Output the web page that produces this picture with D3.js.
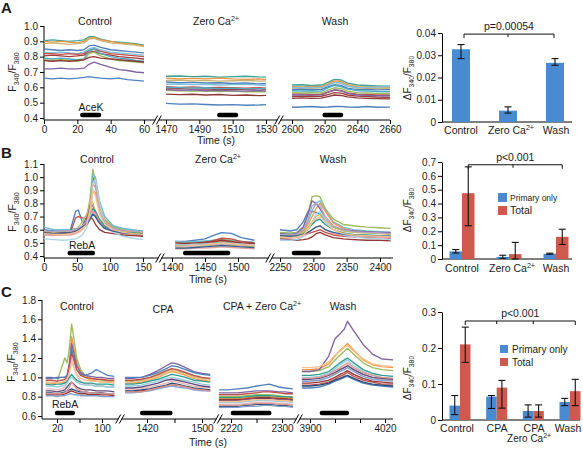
<!DOCTYPE html>
<html><head><meta charset="utf-8">
<script src="https://cdn.jsdelivr.net/npm/d3@7/dist/d3.min.js"></script>
<style>
body{margin:0;background:#fff}
text{font-family:"Liberation Sans",Arial,sans-serif;fill:#1a1a1a}
</style>
</head><body><script>
// ================= DATA =================
// ---- Panel A traces (F340/F380) ----
const aTimeCtrl = [0,5,10,15,20,24,27,30,34,40,45,50,55,60];
const aCtrl = [
 [0.905,0.91,0.905,0.90,0.905,0.91,0.93,0.93,0.915,0.90,0.895,0.89,0.885,0.875],
 [0.90,0.895,0.90,0.895,0.89,0.90,0.92,0.925,0.91,0.90,0.89,0.885,0.88,0.87],
 [0.885,0.89,0.885,0.88,0.885,0.89,0.915,0.92,0.905,0.89,0.885,0.88,0.875,0.865],
 [0.85,0.845,0.84,0.845,0.84,0.845,0.87,0.875,0.86,0.845,0.84,0.835,0.83,0.825],
 [0.83,0.825,0.83,0.825,0.82,0.83,0.85,0.86,0.845,0.83,0.825,0.82,0.815,0.81],
 [0.82,0.82,0.815,0.82,0.815,0.82,0.84,0.85,0.835,0.82,0.815,0.81,0.805,0.80],
 [0.805,0.81,0.805,0.80,0.805,0.81,0.83,0.835,0.82,0.81,0.80,0.795,0.79,0.785],
 [0.79,0.785,0.79,0.785,0.78,0.785,0.84,0.85,0.82,0.80,0.79,0.785,0.775,0.77],
 [0.78,0.775,0.78,0.775,0.77,0.78,0.82,0.83,0.805,0.785,0.775,0.77,0.765,0.76],
 [0.775,0.77,0.775,0.77,0.775,0.78,0.795,0.80,0.79,0.785,0.78,0.775,0.77,0.765],
 [0.72,0.72,0.725,0.72,0.72,0.725,0.75,0.765,0.75,0.73,0.715,0.71,0.70,0.695],
 [0.66,0.655,0.66,0.655,0.66,0.665,0.67,0.665,0.66,0.655,0.66,0.65,0.645,0.64]
];
const aTimeZero = [1470,1478,1486,1494,1502,1510,1518,1526,1530];
const aZero = [
 [0.672,0.674,0.67,0.672,0.667,0.67,0.672,0.668,0.667],
 [0.66,0.655,0.658,0.655,0.66,0.655,0.652,0.655,0.65],
 [0.645,0.648,0.642,0.645,0.64,0.643,0.645,0.64,0.642],
 [0.635,0.63,0.632,0.628,0.63,0.625,0.628,0.622,0.625],
 [0.62,0.622,0.618,0.62,0.615,0.618,0.62,0.615,0.612],
 [0.605,0.60,0.603,0.598,0.60,0.597,0.595,0.598,0.595],
 [0.59,0.592,0.588,0.59,0.585,0.588,0.585,0.582,0.585],
 [0.60,0.598,0.595,0.597,0.592,0.595,0.59,0.592,0.59],
 [0.58,0.578,0.575,0.578,0.572,0.575,0.57,0.572,0.57],
 [0.556,0.552,0.555,0.55,0.553,0.548,0.55,0.546,0.548],
 [0.585,0.58,0.583,0.578,0.58,0.577,0.575,0.578,0.575],
 [0.495,0.49,0.492,0.488,0.485,0.487,0.483,0.485,0.487]
];
const aTimeWash = [2600,2606,2612,2618,2622,2626,2630,2634,2640,2646,2652,2660];
const aWash = [
 [0.615,0.617,0.612,0.615,0.632,0.652,0.648,0.628,0.615,0.612,0.61,0.608],
 [0.605,0.603,0.606,0.604,0.622,0.642,0.638,0.618,0.605,0.603,0.604,0.60],
 [0.595,0.597,0.593,0.596,0.612,0.632,0.628,0.608,0.595,0.593,0.595,0.59],
 [0.585,0.588,0.585,0.587,0.603,0.618,0.613,0.595,0.585,0.587,0.583,0.585],
 [0.60,0.598,0.60,0.598,0.615,0.632,0.627,0.608,0.598,0.60,0.602,0.605],
 [0.555,0.557,0.553,0.555,0.568,0.582,0.578,0.563,0.555,0.553,0.55,0.55],
 [0.54,0.543,0.54,0.542,0.553,0.565,0.562,0.55,0.543,0.54,0.537,0.535],
 [0.578,0.576,0.578,0.575,0.596,0.612,0.605,0.588,0.578,0.576,0.573,0.571],
 [0.565,0.563,0.565,0.563,0.582,0.597,0.592,0.575,0.565,0.563,0.561,0.559],
 [0.528,0.531,0.528,0.53,0.54,0.55,0.547,0.538,0.531,0.528,0.526,0.525],
 [0.55,0.55,0.548,0.551,0.568,0.584,0.578,0.561,0.55,0.548,0.545,0.545],
 [0.47,0.472,0.475,0.47,0.472,0.475,0.476,0.472,0.47,0.475,0.47,0.471]
];
const aStim = [[23,33],[1502,1512],[2620,2630]];
const aTicksCtrl = [0,20,40,60], aTicksZero = [1470,1490,1510,1530], aTicksWash = [2600,2620,2640,2660];
const aYTicks = [0.4,0.5,0.6,0.7,0.8,0.9,1.0];

// ---- Panel B traces ----
const bTimeCtrl = [0,15,30,40,48,52,58,65,70,74,78,84,92,105,120,135,150];
const bCtrl = [
 [0.60,0.59,0.59,0.60,0.74,0.75,0.66,0.66,0.78,1.00,0.95,0.78,0.68,0.62,0.60,0.59,0.58],
 [0.59,0.58,0.59,0.59,0.60,0.61,0.62,0.65,0.85,1.06,0.96,0.78,0.68,0.62,0.60,0.59,0.585],
 [0.62,0.60,0.60,0.60,0.61,0.61,0.62,0.64,0.80,1.02,1.00,0.82,0.70,0.63,0.61,0.60,0.59],
 [0.58,0.575,0.58,0.58,0.59,0.60,0.62,0.66,0.80,0.95,0.92,0.78,0.67,0.61,0.59,0.58,0.575],
 [0.58,0.57,0.575,0.58,0.69,0.70,0.69,0.68,0.70,0.72,0.70,0.65,0.61,0.59,0.575,0.57,0.56],
 [0.57,0.565,0.57,0.575,0.58,0.60,0.63,0.70,0.80,0.78,0.72,0.66,0.62,0.59,0.575,0.57,0.565],
 [0.58,0.575,0.58,0.58,0.60,0.62,0.66,0.72,0.83,0.80,0.74,0.68,0.63,0.60,0.585,0.58,0.575],
 [0.57,0.565,0.57,0.57,0.58,0.59,0.62,0.66,0.72,0.76,0.74,0.68,0.63,0.60,0.58,0.575,0.57],
 [0.56,0.555,0.56,0.56,0.57,0.58,0.60,0.64,0.70,0.74,0.72,0.66,0.61,0.585,0.57,0.565,0.56],
 [0.575,0.57,0.575,0.575,0.59,0.60,0.62,0.66,0.70,0.68,0.64,0.60,0.58,0.57,0.56,0.555,0.55],
 [0.53,0.525,0.52,0.525,0.53,0.54,0.56,0.62,0.70,0.95,0.98,0.80,0.66,0.58,0.55,0.535,0.525],
 [0.59,0.585,0.59,0.59,0.60,0.61,0.63,0.66,0.72,0.90,0.88,0.74,0.65,0.61,0.595,0.59,0.585],
 [0.575,0.57,0.575,0.575,0.585,0.60,0.62,0.64,0.68,0.72,0.70,0.65,0.61,0.59,0.575,0.57,0.565],
 [0.57,0.565,0.565,0.57,0.58,0.59,0.61,0.64,0.75,0.90,0.86,0.72,0.64,0.60,0.58,0.57,0.565]
];
const bTimeZero = [1405,1420,1435,1450,1465,1475,1490,1505,1525];
const bZero = [
 [0.51,0.51,0.52,0.53,0.56,0.578,0.572,0.54,0.52],
 [0.50,0.50,0.505,0.51,0.52,0.525,0.52,0.51,0.50],
 [0.51,0.505,0.51,0.515,0.52,0.52,0.515,0.51,0.505],
 [0.49,0.49,0.495,0.50,0.51,0.515,0.51,0.50,0.495],
 [0.48,0.485,0.49,0.50,0.52,0.535,0.53,0.51,0.50],
 [0.47,0.475,0.48,0.485,0.49,0.50,0.495,0.485,0.48],
 [0.465,0.47,0.47,0.475,0.48,0.485,0.48,0.475,0.47],
 [0.48,0.48,0.485,0.49,0.50,0.505,0.50,0.49,0.485],
 [0.455,0.455,0.46,0.46,0.465,0.47,0.465,0.46,0.455],
 [0.50,0.495,0.50,0.505,0.51,0.52,0.51,0.50,0.495],
 [0.485,0.485,0.49,0.49,0.495,0.50,0.495,0.49,0.485],
 [0.47,0.47,0.475,0.48,0.49,0.495,0.49,0.485,0.48],
 [0.46,0.46,0.465,0.47,0.475,0.48,0.475,0.47,0.465],
 [0.475,0.475,0.48,0.485,0.495,0.50,0.495,0.485,0.48]
];
const bTimeWash = [2250,2265,2275,2285,2292,2298,2304,2310,2318,2330,2345,2360,2380,2400,2416];
const bWash = [
 [0.60,0.59,0.60,0.66,0.74,0.74,0.73,0.72,0.66,0.62,0.60,0.59,0.58,0.58,0.575],
 [0.58,0.575,0.58,0.62,0.72,0.85,0.86,0.85,0.76,0.68,0.64,0.63,0.62,0.615,0.61],
 [0.57,0.565,0.57,0.60,0.66,0.74,0.80,0.82,0.75,0.66,0.62,0.60,0.59,0.585,0.58],
 [0.56,0.555,0.56,0.59,0.64,0.70,0.76,0.80,0.74,0.65,0.61,0.59,0.58,0.575,0.57],
 [0.55,0.545,0.55,0.56,0.57,0.58,0.59,0.60,0.58,0.56,0.55,0.545,0.54,0.54,0.535],
 [0.57,0.565,0.57,0.62,0.72,0.82,0.80,0.76,0.68,0.62,0.60,0.59,0.585,0.58,0.58],
 [0.56,0.555,0.56,0.58,0.62,0.66,0.70,0.72,0.68,0.62,0.59,0.58,0.575,0.57,0.565],
 [0.55,0.545,0.55,0.57,0.60,0.64,0.67,0.68,0.64,0.60,0.575,0.565,0.56,0.555,0.55],
 [0.54,0.535,0.54,0.55,0.57,0.60,0.62,0.63,0.60,0.57,0.555,0.55,0.545,0.54,0.54],
 [0.53,0.525,0.52,0.525,0.53,0.545,0.57,0.58,0.56,0.54,0.53,0.525,0.52,0.52,0.515],
 [0.52,0.52,0.525,0.55,0.60,0.66,0.72,0.74,0.68,0.60,0.56,0.545,0.535,0.53,0.525],
 [0.565,0.56,0.565,0.60,0.68,0.78,0.80,0.78,0.70,0.63,0.60,0.585,0.58,0.575,0.57],
 [0.555,0.55,0.555,0.565,0.58,0.60,0.62,0.63,0.60,0.58,0.565,0.56,0.555,0.55,0.55],
 [0.545,0.54,0.545,0.56,0.60,0.66,0.68,0.70,0.66,0.60,0.57,0.56,0.555,0.55,0.545]
];
const bStim = [[39,74],[1420,1485],[2271,2308]];
const bTicksCtrl = [0,50,100,150], bTicksZero = [1400,1450,1500], bTicksWash = [2250,2300,2350,2400];
const bYTicks = [0.4,0.5,0.6,0.7,0.8,0.9,1.0,1.1];

// ---- Panel C traces ----
const cTimeCtrl = [0,10,20,28,34,38,42,46,50,55,62,70,80,90,100,110,122];
const cCtrl = [
 [0.95,0.94,0.95,1.10,1.20,1.15,1.30,1.55,1.40,1.20,1.08,1.02,0.99,0.98,0.97,0.96,0.96],
 [0.93,0.93,0.94,0.94,0.95,0.97,1.10,1.42,1.30,1.15,1.05,1.00,0.97,0.96,0.95,0.95,0.94],
 [0.99,0.99,1.00,1.00,1.00,1.02,1.15,1.35,1.25,1.12,1.05,1.02,1.01,1.00,1.00,0.99,0.99],
 [1.00,1.00,0.99,1.00,1.00,1.02,1.12,1.30,1.20,1.08,1.03,1.02,1.04,1.08,1.05,1.02,1.01],
 [0.88,0.88,0.87,0.88,0.90,0.95,1.05,1.20,1.12,1.02,0.96,0.93,0.92,0.91,0.91,0.90,0.90],
 [0.97,0.97,0.96,0.97,0.98,1.00,1.12,1.25,1.18,1.08,1.02,1.00,0.99,0.98,0.98,0.97,0.97],
 [0.93,0.92,0.93,0.93,0.94,0.96,1.00,1.03,1.00,0.97,0.95,0.94,0.94,0.93,0.93,0.93,0.92],
 [0.91,0.91,0.90,0.91,0.92,0.94,0.98,1.00,0.98,0.95,0.93,0.92,0.92,0.91,0.91,0.90,0.90],
 [0.86,0.86,0.85,0.86,0.87,0.90,0.93,0.95,0.93,0.90,0.88,0.87,0.87,0.86,0.86,0.86,0.85],
 [0.84,0.84,0.83,0.84,0.85,0.86,0.87,0.88,0.87,0.86,0.85,0.85,0.84,0.84,0.84,0.83,0.83],
 [0.82,0.82,0.82,0.82,0.83,0.84,0.85,0.86,0.85,0.84,0.83,0.83,0.82,0.82,0.82,0.82,0.81],
 [0.81,0.81,0.80,0.81,0.81,0.82,0.83,0.83,0.82,0.82,0.81,0.81,0.81,0.81,0.80,0.80,0.80],
 [0.95,0.95,0.94,0.95,0.96,0.98,1.05,1.15,1.10,1.03,0.99,0.97,0.96,0.96,0.95,0.95,0.95],
 [0.83,0.83,0.83,0.83,0.84,0.86,0.90,0.95,0.92,0.88,0.86,0.85,0.84,0.84,0.83,0.83,0.83]
];
const cTimeCpa = [1388,1400,1412,1424,1436,1448,1456,1464,1476,1488,1500,1512];
const cCpa = [
 [0.96,0.96,0.97,0.99,1.02,1.06,1.08,1.07,1.04,1.01,0.99,0.98],
 [0.94,0.94,0.95,0.97,1.00,1.04,1.06,1.05,1.02,0.99,0.97,0.96],
 [0.99,0.99,1.00,1.03,1.07,1.12,1.15,1.14,1.10,1.06,1.04,1.03],
 [1.00,1.00,1.00,1.02,1.05,1.09,1.12,1.11,1.08,1.05,1.03,1.02],
 [0.87,0.87,0.88,0.90,0.92,0.94,0.96,0.95,0.93,0.91,0.90,0.89],
 [0.97,0.97,0.98,1.00,1.03,1.07,1.09,1.08,1.05,1.02,1.00,0.99],
 [0.93,0.93,0.94,0.96,0.98,1.01,1.03,1.02,1.00,0.97,0.96,0.95],
 [0.91,0.91,0.92,0.94,0.96,0.99,1.00,0.99,0.97,0.95,0.93,0.92],
 [0.89,0.89,0.90,0.92,0.94,0.97,0.98,0.97,0.95,0.93,0.91,0.90],
 [0.86,0.86,0.87,0.88,0.90,0.92,0.94,0.93,0.91,0.89,0.88,0.87],
 [0.85,0.85,0.86,0.87,0.89,0.91,0.92,0.92,0.90,0.88,0.87,0.86],
 [0.84,0.84,0.85,0.86,0.88,0.90,0.91,0.90,0.89,0.87,0.86,0.86],
 [0.95,0.95,0.96,0.98,1.01,1.05,1.07,1.06,1.03,1.00,0.98,0.97],
 [0.85,0.85,0.85,0.87,0.89,0.91,0.92,0.92,0.90,0.88,0.87,0.86]
];
const cTimeCpaZero = [2201,2215,2230,2245,2260,2270,2280,2295,2305,2317];
const cCpaZero = [
 [0.80,0.80,0.80,0.81,0.82,0.82,0.82,0.81,0.80,0.80],
 [0.78,0.78,0.78,0.79,0.80,0.80,0.80,0.79,0.79,0.78],
 [0.84,0.84,0.84,0.85,0.86,0.86,0.86,0.85,0.85,0.84],
 [0.87,0.87,0.88,0.89,0.91,0.92,0.93,0.90,0.89,0.88],
 [0.72,0.72,0.72,0.73,0.74,0.74,0.74,0.73,0.73,0.72],
 [0.82,0.82,0.82,0.83,0.84,0.85,0.85,0.84,0.83,0.83],
 [0.79,0.79,0.79,0.80,0.81,0.81,0.81,0.80,0.80,0.79],
 [0.74,0.74,0.74,0.75,0.76,0.76,0.76,0.75,0.75,0.74],
 [0.76,0.76,0.76,0.77,0.78,0.78,0.78,0.77,0.77,0.76],
 [0.70,0.70,0.70,0.71,0.72,0.72,0.72,0.71,0.71,0.70],
 [0.77,0.77,0.77,0.78,0.79,0.79,0.79,0.78,0.78,0.77],
 [0.69,0.69,0.69,0.70,0.70,0.71,0.71,0.70,0.70,0.69],
 [0.75,0.75,0.75,0.76,0.77,0.77,0.77,0.76,0.76,0.75],
 [0.71,0.71,0.71,0.72,0.73,0.73,0.73,0.72,0.72,0.71]
];
const cTimeWash = [3887,3900,3915,3930,3940,3948,3955,3960,3970,3985,4000,4015,4033];
const cWash = [
 [1.06,1.06,1.07,1.11,1.18,1.23,1.27,1.30,1.24,1.15,1.10,1.08,1.07],
 [1.08,1.08,1.09,1.14,1.22,1.28,1.32,1.35,1.28,1.18,1.13,1.11,1.10],
 [1.06,1.06,1.08,1.22,1.40,1.45,1.50,1.58,1.48,1.34,1.24,1.19,1.18],
 [0.89,0.89,0.90,0.93,0.96,0.98,1.00,1.01,0.98,0.94,0.92,0.91,0.90],
 [0.96,0.96,0.97,1.00,1.04,1.08,1.11,1.13,1.08,1.03,1.00,0.98,0.97],
 [0.92,0.92,0.93,0.95,0.98,1.01,1.03,1.05,1.01,0.97,0.95,0.93,0.93],
 [1.02,1.02,1.03,1.06,1.11,1.15,1.18,1.20,1.15,1.08,1.04,1.02,1.01],
 [1.00,1.00,1.01,1.04,1.09,1.13,1.16,1.18,1.12,1.06,1.02,1.00,0.99],
 [0.98,0.98,0.99,1.02,1.05,1.08,1.10,1.12,1.08,1.03,1.00,0.99,0.98],
 [0.91,0.91,0.92,0.94,0.97,0.99,1.01,1.02,0.99,0.95,0.93,0.92,0.91],
 [0.94,0.94,0.95,0.97,1.00,1.03,1.05,1.07,1.03,0.99,0.96,0.95,0.94],
 [0.96,0.96,0.97,1.00,1.03,1.06,1.08,1.10,1.06,1.01,0.98,0.97,0.96],
 [1.10,1.10,1.11,1.16,1.23,1.27,1.31,1.33,1.27,1.19,1.14,1.12,1.11],
 [0.99,0.99,1.00,1.03,1.07,1.10,1.13,1.15,1.10,1.05,1.02,1.00,0.99]
];
const cStim = [[20,48],[1413,1454],[2223,2280],[3919,3959]];
const cTicksCtrl = [20,60,100], cTicksCpa = [1420,1460,1500], cTicksCpaZero = [2220,2260,2300], cTicksWash = [3900,3940,3980,4020];
const cTickLabels = [20,100,1420,1500,2220,2300,3900,4020];
const cYTicks = [0.6,0.8,1.0,1.2,1.4,1.6,1.8];

// ---- Bar charts (ΔF340/F380) ----
const barACats = ["Control","Zero","Wash"];
const barAMean = [0.0327,0.0051,0.0266];
const barALow  = [0.0285,0.0040,0.0255];
const barAHigh = [0.0348,0.0068,0.0285];
const barAYTicks = [0,0.01,0.02,0.03,0.04];

const barBCats = ["Control","Zero","Wash"];
const barBPrimMean = [0.055,0.015,0.038];
const barBPrimLow  = [0.043,0.005,0.034];
const barBPrimHigh = [0.068,0.027,0.042];
const barBTotMean = [0.475,0.035,0.160];
const barBTotLow  = [0.240,0.000,0.105];
const barBTotHigh = [0.665,0.120,0.215];
const barBYTicks = [0,0.1,0.2,0.3,0.4,0.5,0.6,0.7];

const barCCats = ["Control","CPA","CPAZero","Wash"];
const barCPrimMean = [0.040,0.065,0.025,0.050];
const barCPrimLow  = [0.015,0.032,0.008,0.040];
const barCPrimHigh = [0.068,0.068,0.042,0.060];
const barCTotMean = [0.210,0.090,0.025,0.080];
const barCTotLow  = [0.160,0.033,0.008,0.040];
const barCTotHigh = [0.258,0.110,0.042,0.113];
const barCYTicks = [0,0.1,0.2,0.3];

// ================= STYLE / DRAWING =================
const colA = ["#3FA596","#EE9345","#C9B36E","#4F81BD","#7CC3DA","#C0504D","#A33B3B","#4BACC6","#9BBB59","#8E3A36","#8064A2","#4F81BD"];
const colB = ["#4F81BD","#9BBB59","#6FBDD1","#F79646","#C0504D","#8064A2","#C4BD60","#2C9C8C","#E6A0A0","#953735","#A9D4E6","#B3A2C7","#376092","#FAC090"];
const colC = ["#9BBB59","#F79646","#8064A2","#4F81BD","#E6B9B8","#C0504D","#2C9C8C","#93CDDD","#604A7B","#2C4D75","#953735","#7F9FCF","#FAC090","#D99694"];
const BLUE = "#4A8AD0", RED = "#CD5A4C";
const FS = 10;

const svg = d3.select("body").append("svg").attr("width",583).attr("height",449);

function rich(sel, parts, size){
  let shift = 0;
  parts.forEach(p=>{
    const want = p.sub ? size*0.3 : p.sup ? -size*0.42 : 0;
    sel.append("tspan").attr("dy", (want-shift).toFixed(2))
      .attr("font-size", (p.sub||p.sup) ? size*0.68 : size).text(p.t);
    shift = want;
  });
  return sel;
}
function label(x,y,parts,size,anchor="middle",rot=0){
  const t = svg.append("text").attr("text-anchor",anchor).attr("font-size",size)
    .attr("transform",`translate(${x},${y}) rotate(${rot})`);
  return rich(t, parts, size);
}
const ZERO = [{t:"Zero Ca"},{t:"2+",sup:true}];
const FRATIO = [{t:"F"},{t:"340",sub:true},{t:"/F"},{t:"380",sub:true}];
const DFRATIO = [{t:"ΔF"},{t:"340",sub:true},{t:"/F"},{t:"380",sub:true}];

function tracePanel(p){
  const g = svg.append("g");
  const y = d3.scaleLinear().domain(p.yDomain).range(p.yRange);
  const ya = g.append("g").attr("transform",`translate(${p.x0},0)`)
    .call(d3.axisLeft(y).tickValues(p.yTicks).tickSize(4).tickPadding(2).tickFormat(d3.format(".1f")));
  ya.select(".domain").remove();
  ya.selectAll("text").attr("font-size",FS);
  g.append("line").attr("x1",p.x0).attr("x2",p.x0).attr("y1",y(p.yDomain[1])).attr("y2",p.axisY).attr("stroke","#000");
  g.append("line").attr("x1",p.x0).attr("x2",p.xEnd).attr("y1",p.axisY).attr("y2",p.axisY).attr("stroke","#000");
  p.segs.forEach(s=>{
    const x = d3.scaleLinear().domain(s.dom).range(s.rng);
    const line = d3.line().x((d,i)=>x(s.times[i])).y(d=>y(d));
    g.append("g").selectAll("path").data(s.traces).join("path")
      .attr("d",line).attr("fill","none")
      .attr("stroke",(d,i)=>p.colors[i%p.colors.length])
      .attr("stroke-width",1.35).attr("stroke-linejoin","round");
    const xa = g.append("g").attr("transform",`translate(0,${p.axisY})`)
      .call(d3.axisBottom(x).tickValues(s.ticks).tickSize(4).tickPadding(2)
        .tickFormat(d => (!p.labels || p.labels.includes(d)) ? d : ""));
    xa.select(".domain").remove();
    xa.selectAll("text").attr("font-size",FS);
    g.append("line").attr("x1",x(s.stim[0])).attr("x2",x(s.stim[1]))
      .attr("y1",p.stimY).attr("y2",p.stimY).attr("stroke","#000")
      .attr("stroke-width",4.5).attr("stroke-linecap","round");
  });
  p.breaks.forEach(bx=>{
    g.append("rect").attr("x",bx-1.5).attr("y",p.axisY-2).attr("width",3).attr("height",4).attr("fill","#fff");
    [-1.8,1.8].forEach(dx=>{
      g.append("line").attr("x1",bx+dx-2.5).attr("y1",p.axisY+4.5).attr("x2",bx+dx+2.5).attr("y2",p.axisY-4.5)
        .attr("stroke","#000").attr("stroke-width",1);
    });
  });
}

function barPanel(p){
  const g = svg.append("g");
  const y = d3.scaleLinear().domain(p.yDomain).range(p.yRange);
  const x = d3.scalePoint().domain(p.cats).range(p.xRange);
  const ya = g.append("g").attr("transform",`translate(${p.x0},0)`)
    .call(d3.axisLeft(y).tickValues(p.yTicks).tickSize(4).tickSizeOuter(0).tickPadding(2).tickFormat(p.fmt));
  ya.selectAll("text").attr("font-size",FS);
  g.append("line").attr("x1",p.x0).attr("x2",p.xEnd).attr("y1",y(0)).attr("y2",y(0)).attr("stroke","#000");
  p.series.forEach(s=>{
    p.cats.forEach((c,i)=>{
      const cx = x(c)+s.off;
      g.append("rect").attr("x",cx-p.bw/2).attr("width",p.bw)
        .attr("y",y(s.mean[i])).attr("height",y(0)-y(s.mean[i])).attr("fill",s.color);
      const lo = y(s.low[i]), hi = y(s.high[i]);
      g.append("line").attr("x1",cx).attr("x2",cx).attr("y1",lo).attr("y2",hi).attr("stroke","#111").attr("stroke-width",1.1);
      [lo,hi].forEach(v=>g.append("line").attr("x1",cx-3.5).attr("x2",cx+3.5).attr("y1",v).attr("y2",v).attr("stroke","#111").attr("stroke-width",1.1));
    });
  });
  const by = y(p.bracket.val);
  const xs = p.bracket.ends.map(([c,o])=>x(c)+o);
  g.append("path").attr("d",`M${xs[0]},${by+4}V${by}H${xs[1]}V${by+4}`).attr("fill","none").attr("stroke","#111");
  p.bracket.mids.forEach(([c,o])=>g.append("line").attr("x1",x(c)+o).attr("x2",x(c)+o).attr("y1",by).attr("y2",by+3).attr("stroke","#111"));
  label((xs[0]+xs[1])/2 + (p.bracket.tdx||0), by-4, [{t:p.bracket.text}], FS+0.5);
  return {x,y};
}

// ---------- Panel A ----------
label(1,13,[{t:"A"}],15,"start").attr("font-weight","bold");
tracePanel({
  yDomain:[0.4,1.0], yRange:[118,26], yTicks:aYTicks, x0:44, xEnd:390, axisY:120, stimY:115,
  colors:colA, breaks:[157,279],
  segs:[
    {dom:[0,60], rng:[44,144], times:aTimeCtrl, traces:aCtrl, ticks:aTicksCtrl, stim:aStim[0]},
    {dom:[1470,1530], rng:[166,266], times:aTimeZero, traces:aZero, ticks:aTicksZero, stim:aStim[1]},
    {dom:[2600,2660], rng:[292,390], times:aTimeWash, traces:aWash, ticks:aTicksWash, stim:aStim[2]}
  ]
});
label(91,111,[{t:"AceK"}],FS+0.5);
label(95,25,[{t:"Control"}],FS+0.5);
label(216,25,ZERO,FS+0.5);
label(335,25,[{t:"Wash"}],FS+0.5);
label(216,144,[{t:"Time (s)"}],FS+0.5);
label(16,72,FRATIO,FS+0.5,"middle",-90);

barPanel({
  yDomain:[0,0.04], yRange:[122,33], yTicks:barAYTicks, fmt:d=>d===0?"0":d.toFixed(2),
  x0:442, xEnd:572, cats:barACats, xRange:[461,555], bw:18,
  series:[{mean:barAMean, low:barALow, high:barAHigh, color:BLUE, off:0}],
  bracket:{val:0.0395, ends:[["Control",3],["Wash",-1]], mids:[["Zero",0]], text:"p=0.00054"}
});
label(461,134,[{t:"Control"}],FS+0.5);
label(511,134,ZERO,FS+0.5);
label(556,134,[{t:"Wash"}],FS+0.5);
label(411,78,DFRATIO,FS,"middle",-90);

// ---------- Panel B ----------
label(1,158,[{t:"B"}],15,"start").attr("font-weight","bold");
tracePanel({
  yDomain:[0.4,1.1], yRange:[256,164], yTicks:bYTicks, x0:44, xEnd:393, axisY:258, stimY:253,
  colors:colB, breaks:[160,270],
  segs:[
    {dom:[0,150], rng:[44,143], times:bTimeCtrl, traces:bCtrl, ticks:bTicksCtrl, stim:bStim[0]},
    {dom:[1400,1500], rng:[172,238], times:bTimeZero, traces:bZero, ticks:bTicksZero, stim:bStim[1]},
    {dom:[2250,2400], rng:[280,380], times:bTimeWash, traces:bWash, ticks:bTicksWash, stim:bStim[2]}
  ]
});
label(82,249,[{t:"RebA"}],FS+0.5);
label(97,163,[{t:"Control"}],FS+0.5);
label(218,163,ZERO,FS+0.5);
label(333,163,[{t:"Wash"}],FS+0.5);
label(208,283,[{t:"Time (s)"}],FS+0.5);
label(16,212,FRATIO,FS+0.5,"middle",-90);

barPanel({
  yDomain:[0,0.7], yRange:[259,162], yTicks:barBYTicks, fmt:d=>d===0?"0":d.toFixed(1),
  x0:442, xEnd:572, cats:barBCats, xRange:[462,556], bw:12.5,
  series:[
    {mean:barBPrimMean, low:barBPrimLow, high:barBPrimHigh, color:BLUE, off:-6.25},
    {mean:barBTotMean, low:barBTotLow, high:barBTotHigh, color:RED, off:6.25}
  ],
  bracket:{val:0.68, ends:[["Control",6.25],["Wash",6.25]], mids:[["Zero",4]], text:"p<0.001"}
});
svg.append("rect").attr("x",498).attr("y",193).attr("width",9).attr("height",9).attr("fill",BLUE);
svg.append("rect").attr("x",498).attr("y",206).attr("width",9).attr("height",9).attr("fill",RED);
label(510,201,[{t:"Primary only"}],8.5,"start");
label(510,214,[{t:"Total"}],10.5,"start");
label(462,272,[{t:"Control"}],FS+0.5);
label(512,272,ZERO,FS+0.5);
label(556,272,[{t:"Wash"}],FS+0.5);
label(411,210,DFRATIO,FS,"middle",-90);

// ---------- Panel C ----------
label(1,297,[{t:"C"}],15,"start").attr("font-weight","bold");
tracePanel({
  yDomain:[0.6,1.8], yRange:[416,300], yTicks:cYTicks, x0:42, xEnd:393, axisY:419, stimY:413,
  colors:colC, breaks:[120,218,298], labels:cTickLabels,
  segs:[
    {dom:[20,100], rng:[57,102], times:cTimeCtrl, traces:cCtrl, ticks:cTicksCtrl, stim:cStim[0]},
    {dom:[1420,1500], rng:[147,202], times:cTimeCpa, traces:cCpa, ticks:cTicksCpa, stim:cStim[1]},
    {dom:[2220,2300], rng:[231,282], times:cTimeCpaZero, traces:cCpaZero, ticks:cTicksCpaZero, stim:cStim[2]},
    {dom:[3900,4020], rng:[310,385], times:cTimeWash, traces:cWash, ticks:cTicksWash, stim:cStim[3]}
  ]
});
label(65,408,[{t:"RebA"}],FS+0.5);
label(77,310,[{t:"Control"}],FS+0.5);
label(163,313,[{t:"CPA"}],FS+0.5);
label(262,310,[{t:"CPA + "},{t:"Zero Ca"},{t:"2+",sup:true}],FS+0.5);
label(343,310,[{t:"Wash"}],FS+0.5);
label(208,446,[{t:"Time (s)"}],FS+0.5);
label(15,362,FRATIO,FS+0.5,"middle",-90);

barPanel({
  yDomain:[0,0.3], yRange:[420,312], yTicks:barCYTicks, fmt:d=>d===0?"0":d.toFixed(1),
  x0:442, xEnd:580, cats:barCCats, xRange:[460,570], bw:10.5,
  series:[
    {mean:barCPrimMean, low:barCPrimLow, high:barCPrimHigh, color:BLUE, off:-5.25},
    {mean:barCTotMean, low:barCTotLow, high:barCTotHigh, color:RED, off:5.25}
  ],
  bracket:{val:0.275, ends:[["Control",5.25],["Wash",5.25]], mids:[["CPA",0],["CPAZero",0]], text:"p<0.001"}
});
svg.append("rect").attr("x",500).attr("y",345).attr("width",8).attr("height",8).attr("fill",BLUE);
svg.append("rect").attr("x",500).attr("y",358).attr("width",8).attr("height",8).attr("fill",RED);
label(512,353,[{t:"Primary only"}],10,"start");
label(512,366,[{t:"Total"}],10,"start");
label(457,432,[{t:"Control"}],FS+0.5);
label(497,432,[{t:"CPA"}],FS+0.5);
label(534,432,[{t:"CPA"}],FS+0.5);
label(529,442,ZERO,FS);
label(568,432,[{t:"Wash"}],FS+0.5);
label(411,378,DFRATIO,FS,"middle",-90);
</script></body></html>
